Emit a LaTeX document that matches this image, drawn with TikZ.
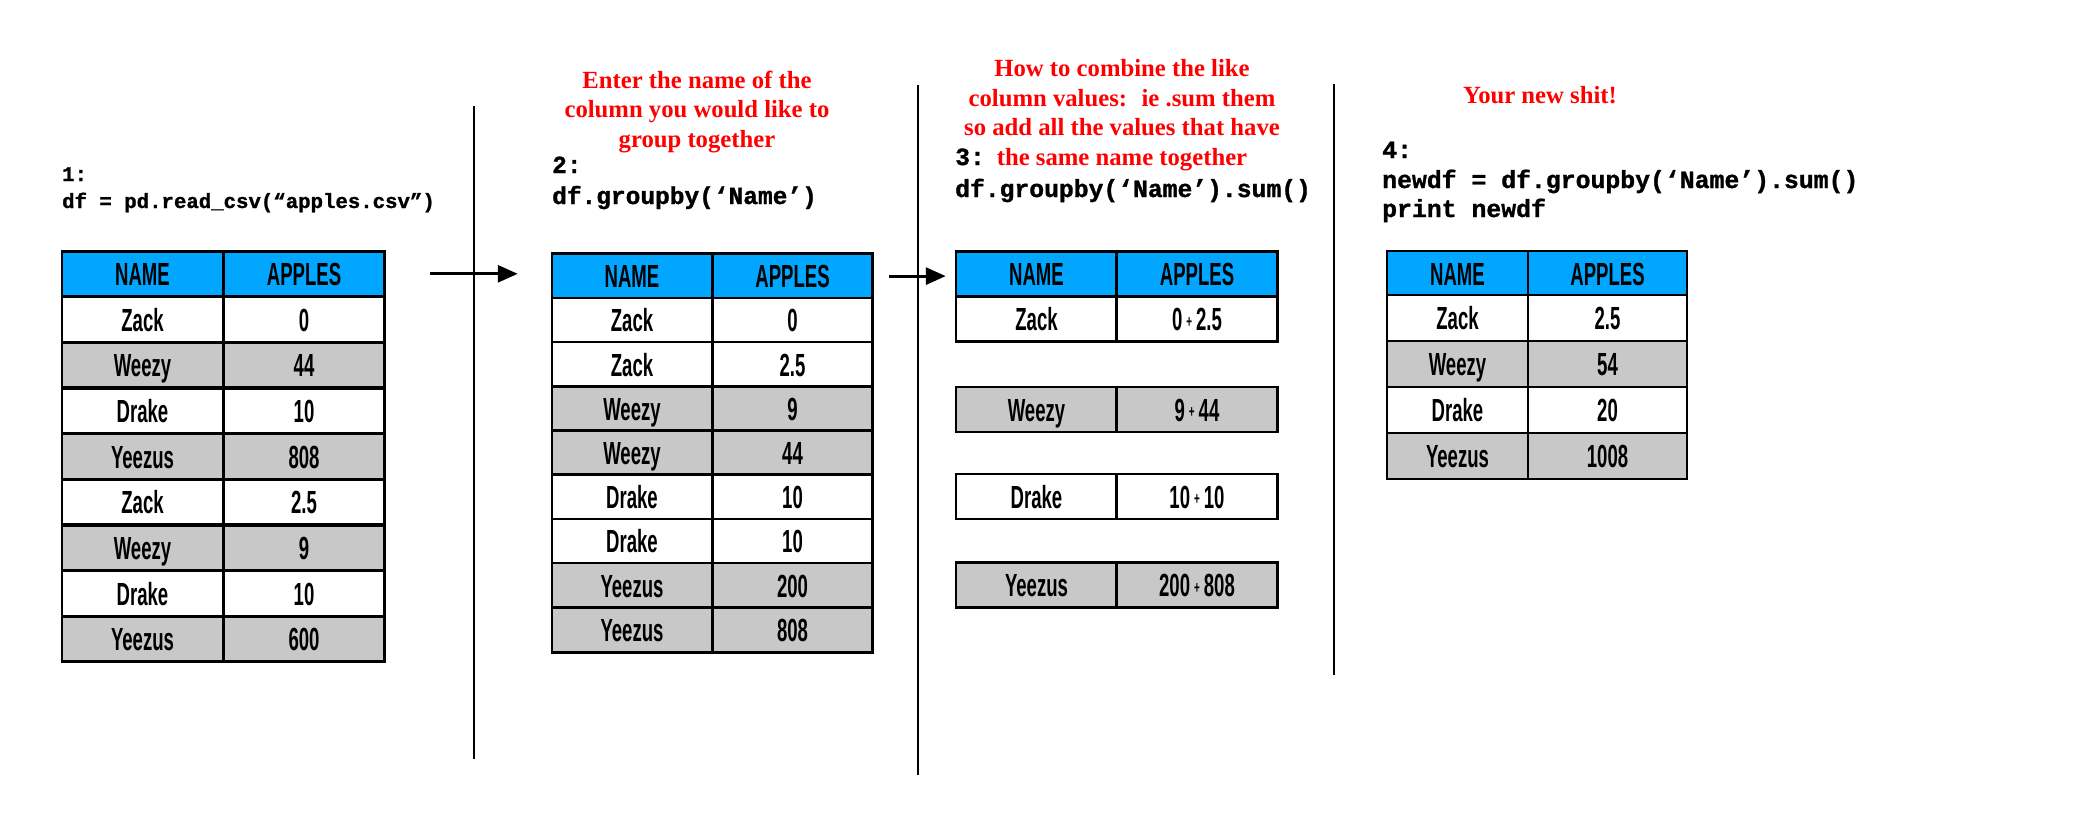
\documentclass[tikz,border=0pt]{standalone}
\usepackage{fontspec}
\usepackage{xcolor}
\usepackage{tikz}
\usetikzlibrary{arrows.meta,positioning,calc}
\newfontfamily\codefont[FakeBold=1.2]{Liberation Mono}
\newfontfamily\notefont{Liberation Serif}
\newfontfamily\cellfont[FakeStretch=0.58]{Liberation Sans Bold}
\definecolor{hdrblue}{RGB}{0,166,255}
\definecolor{rowgray}{RGB}{200,200,200}
\newcommand{\pls}{\hspace{4pt}\raisebox{3.5pt}{\fontsize{17}{17}\selectfont +}\hspace{4pt}}
\tikzset{
	cell/.style={draw, line width=2.5pt, inner sep=0pt, minimum width=161pt,
		minimum height=45pt, text height=23pt, text depth=0pt,
		font=\cellfont\fontsize{32}{32}\selectfont},
	hdr/.style={cell, fill=hdrblue},
	wht/.style={cell, fill=white},
	gry/.style={cell, fill=rowgray},
	code/.style={anchor=base west, inner sep=0pt,
		font=\codefont\bfseries\fontsize{#1}{#1}\selectfont},
	note/.style={text=red, align=center, anchor=base, inner sep=0pt,
		font=\notefont\bfseries\fontsize{24.7}{29.5}\selectfont},
	sepline/.style={line width=2pt},
	arr/.style={line width=3pt, -{Triangle[length=20pt,width=17pt]}},
}
\begin{document}
\begin{tikzpicture}[x=1pt, y=-1pt]
	\useasboundingbox (0,0) rectangle (2083,833);
	% step 1: read the csv
	\node[code=20.7] at (62,181) (c1a) {1:};
	\node[code=20.7] at (62,208) (c1b) {df = pd.read\_csv(“apples.csv”)};
	\node[hdr] at (142.5,273.8) (t1hn) {NAME};
	\node[hdr] at (304,273.8) (t1ha) {APPLES};
	\node[wht] at (142.5,319.5) (t1n1) {Zack};
	\node[wht] at (304,319.5) (t1a1) {0};
	\node[gry] at (142.5,365.2) (t1n2) {Weezy};
	\node[gry] at (304,365.2) (t1a2) {44};
	\node[wht] at (142.5,410.8) (t1n3) {Drake};
	\node[wht] at (304,410.8) (t1a3) {10};
	\node[gry] at (142.5,456.5) (t1n4) {Yeezus};
	\node[gry] at (304,456.5) (t1a4) {808};
	\node[wht] at (142.5,502.2) (t1n5) {Zack};
	\node[wht] at (304,502.2) (t1a5) {2.5};
	\node[gry] at (142.5,547.8) (t1n6) {Weezy};
	\node[gry] at (304,547.8) (t1a6) {9};
	\node[wht] at (142.5,593.5) (t1n7) {Drake};
	\node[wht] at (304,593.5) (t1a7) {10};
	\node[gry] at (142.5,639.2) (t1n8) {Yeezus};
	\node[gry] at (304,639.2) (t1a8) {600};
	% step 2: group by name
	\node[note] at (697,147) (n2) {Enter the name of the\\column you would like to\\group together};
	\node[code=24.5] at (552,173) (c2a) {2:};
	\node[code=24.5] at (552,204) (c2b) {df.groupby(‘Name’)};
	\node[hdr, minimum width=160pt] at (632,276.1) (t2hn) {NAME};
	\node[hdr, minimum width=160pt] at (792.5,276.1) (t2ha) {APPLES};
	\node[wht, minimum width=160pt] at (632,320.3) (t2n1) {Zack};
	\node[wht, minimum width=160pt] at (792.5,320.3) (t2a1) {0};
	\node[wht, minimum width=160pt] at (632,364.6) (t2n2) {Zack};
	\node[wht, minimum width=160pt] at (792.5,364.6) (t2a2) {2.5};
	\node[gry, minimum width=160pt] at (632,408.8) (t2n3) {Weezy};
	\node[gry, minimum width=160pt] at (792.5,408.8) (t2a3) {9};
	\node[gry, minimum width=160pt] at (632,453) (t2n4) {Weezy};
	\node[gry, minimum width=160pt] at (792.5,453) (t2a4) {44};
	\node[wht, minimum width=160pt] at (632,497.2) (t2n5) {Drake};
	\node[wht, minimum width=160pt] at (792.5,497.2) (t2a5) {10};
	\node[wht, minimum width=160pt] at (632,541.4) (t2n6) {Drake};
	\node[wht, minimum width=160pt] at (792.5,541.4) (t2a6) {10};
	\node[gry, minimum width=160pt] at (632,585.7) (t2n7) {Yeezus};
	\node[gry, minimum width=160pt] at (792.5,585.7) (t2a7) {200};
	\node[gry, minimum width=160pt] at (632,629.9) (t2n8) {Yeezus};
	\node[gry, minimum width=160pt] at (792.5,629.9) (t2a8) {808};
	% step 3: sum the groups
	\node[note] at (1122,165) (n3) {How to combine the like\\column values:~ ie .sum them\\so add all the values that have\\the same name together};
	\node[code=24.7] at (955,165) (c3a) {3:};
	\node[code=24.7] at (955,197) (c3b) {df.groupby(‘Name’).sum()};
	\node[hdr] at (1036.5,274) (t3hn) {NAME};
	\node[hdr] at (1197,274) (t3ha) {APPLES};
	\node[wht] at (1036.5,319) (t3n1) {Zack};
	\node[wht] at (1197,319) (t3a1) {0\pls2.5};
	\node[gry] at (1036.5,409.5) (t3n2) {Weezy};
	\node[gry] at (1197,409.5) (t3a2) {9\pls44};
	\node[wht] at (1036.5,496.5) (t3n3) {Drake};
	\node[wht] at (1197,496.5) (t3a3) {10\pls10};
	\node[gry] at (1036.5,585) (t3n4) {Yeezus};
	\node[gry] at (1197,585) (t3a4) {200\pls808};
	% step 4: the result
	\node[note] at (1540,103) (n4) {Your new shit!};
	\node[code=24.8] at (1382,158) (c4a) {4:};
	\node[code=24.8] at (1382,188) (c4b) {newdf = df.groupby(‘Name’).sum()};
	\node[code=24.8] at (1382,217) (c4c) {print newdf};
	\node[hdr, minimum width=141pt] at (1457.5,273.5) (t4hn) {NAME};
	\node[hdr, minimum width=159pt] at (1607.5,273.5) (t4ha) {APPLES};
	\node[wht, minimum width=141pt, minimum height=46pt] at (1457.5,318) (t4n1) {Zack};
	\node[wht, minimum width=159pt, minimum height=46pt] at (1607.5,318) (t4a1) {2.5};
	\node[gry, minimum width=141pt, minimum height=46pt] at (1457.5,364) (t4n2) {Weezy};
	\node[gry, minimum width=159pt, minimum height=46pt] at (1607.5,364) (t4a2) {54};
	\node[wht, minimum width=141pt, minimum height=46pt] at (1457.5,410) (t4n3) {Drake};
	\node[wht, minimum width=159pt, minimum height=46pt] at (1607.5,410) (t4a3) {20};
	\node[gry, minimum width=141pt, minimum height=46pt] at (1457.5,456) (t4n4) {Yeezus};
	\node[gry, minimum width=159pt, minimum height=46pt] at (1607.5,456) (t4a4) {1008};
	% dividers
	\coordinate (s1a) at (474,106);
	\coordinate (s1b) at (474,759);
	\coordinate (s2a) at (918,85);
	\coordinate (s2b) at (918,775);
	\coordinate (s3a) at (1334,84);
	\coordinate (s3b) at (1334,675);
	\draw[sepline] (s1a) -- (s1b);
	\draw[sepline] (s2a) -- (s2b);
	\draw[sepline] (s3a) -- (s3b);
	% arrows
	\draw[arr] ([xshift=44pt]t1ha.east) -- ($(t2hn.west |- t1ha.east)+(-33,0)$);
	\draw[arr] ([xshift=15pt]t2ha.east) -- ($(t3hn.west |- t2ha.east)+(-9,0)$);
\end{tikzpicture}
\end{document}
